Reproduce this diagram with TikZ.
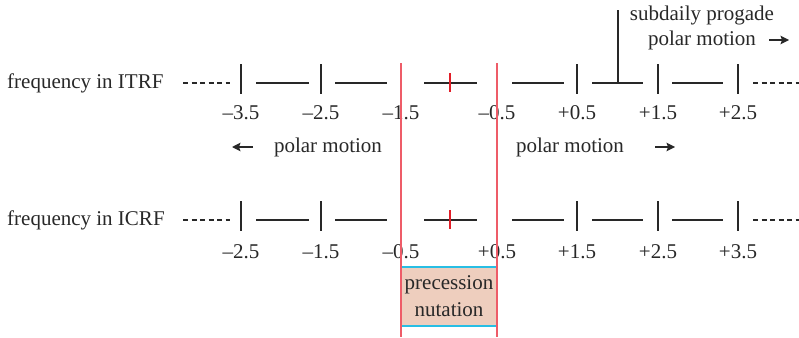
\documentclass[tikz,border=0pt]{standalone}
\usepackage{fontspec}
\setmainfont{Liberation Serif}
\usetikzlibrary{arrows.meta}
\definecolor{bandred}{RGB}{238,92,104}
\definecolor{tickred}{RGB}{225,30,40}
\definecolor{boxfill}{RGB}{238,206,190}
\definecolor{boxcyan}{RGB}{40,190,228}
\definecolor{ink}{RGB}{40,40,40}
\tikzset{
  lbl/.style={inner sep=0pt, font=\fontsize{21}{25}\selectfont, text=ink},
  axis/.style={draw=ink, line width=1.1pt},
  tickmark/.style={draw=ink, line width=1.3pt},
  redtick/.style={draw=tickred, line width=1.1pt},
  band/.style={draw=bandred, line width=1.4pt},
  dir/.style={draw=ink, line width=1.2pt, -{Stealth[length=8.5pt,width=8.5pt,inset=1.5pt]}},
}
\begin{document}
\begin{tikzpicture}[x=1pt,y=-1pt]
\useasboundingbox (0,0) rectangle (799,337);
% precession box
\fill[boxfill] (401,267) rectangle (497,326);
\draw[boxcyan, line width=1.3pt] (401,267) -- (497,267);
\draw[boxcyan, line width=1.3pt] (401,326) -- (497,326);
\node[lbl] (prec) at (449,285) {precession};
\node[lbl] (nut) at (449,310) {nutation};

% rows
\foreach \y/\n in {83/top, 220/bot}{
  \draw[axis, dashed, dash pattern=on 5pt off 3.5pt] (183,\y) -- (230,\y);
  \draw[axis] (256,\y) -- (309,\y);
  \draw[axis] (335,\y) -- (387,\y);
  \draw[axis] (424,\y) -- (477,\y);
  \draw[axis] (512,\y) -- (564,\y);
  \draw[axis] (592,\y) -- (643,\y);
  \draw[axis] (672,\y) -- (723,\y);
  \draw[axis, dashed, dash pattern=on 5pt off 3.5pt] (753,\y) -- (799,\y);
  \foreach \x in {241,321,577,658,738}{
    \draw[tickmark] (\x,\y-19) -- (\x,\y+11);
  }
  \draw[redtick] (450,\y-10) -- (450,\y+9);
}
\node[lbl, anchor=west] (itrf) at (7,83) {frequency in ITRF};
\node[lbl, anchor=west] (icrf) at (7,220) {frequency in ICRF};

% top labels
\foreach \x/\t/\nm in {241/--3.5/ta,321/--2.5/tb,401/--1.5/tc,497/--0.5/td,577/+0.5/te,658/+1.5/tf,738/+2.5/tg}{
  \node[lbl] (\nm) at (\x,113) {\t};
}
% bottom labels
\foreach \x/\t/\nm in {241/--2.5/ba,321/--1.5/bb,401/--0.5/bc,497/+0.5/bd,577/+1.5/be,658/+2.5/bf,738/+3.5/bg}{
  \node[lbl] (\nm) at (\x,252) {\t};
}

% red band lines
\coordinate (rl1) at (401,63);
\coordinate (rl2) at (401,337);
\coordinate (rr1) at (497,63);
\coordinate (rr2) at (497,337);
\draw[band] (rl1) -- (rl2);
\draw[band] (rr1) -- (rr2);

% subdaily prograde
\node[lbl] (sub) at (702,15) {subdaily progade};
\node[lbl] (spm) at (702,40) {polar motion};
\coordinate (lead1) at (618,83);
\coordinate (lead2) at (618,10);
\draw[axis] (lead1) -- (lead2);
\coordinate (sa1) at (769,40);
\coordinate (sa2) at (789,40);
\draw[dir] (sa1) -- (sa2);

% polar motion middle
\node[lbl] (pml) at (328,147) {polar motion};
\node[lbl] (pmr) at (570,147) {polar motion};
\coordinate (la1) at (253,147);
\coordinate (la2) at (232,147);
\draw[dir] (la1) -- (la2);
\coordinate (ra1) at (655,147);
\coordinate (ra2) at (675,147);
\draw[dir] (ra1) -- (ra2);
\end{tikzpicture}
\end{document}
